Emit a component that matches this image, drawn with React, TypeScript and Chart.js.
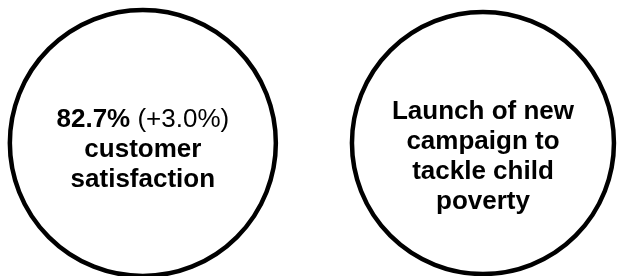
import React, { useEffect, useRef } from "react";
import { Chart, registerables } from "chart.js";

Chart.register(...registerables);

// ---- data ----
const categories = ["Customer satisfaction", "Child poverty campaign"];
const xValues = [0, 1];
const yValues = [0, 0];
const satisfactionValue = "82.7%";
const satisfactionChange = "(+3.0%)";
const satisfactionCaption = ["customer", "satisfaction"];
const campaignCaption = ["Launch of new", "campaign to", "tackle child", "poverty"];

// ---- style ----
const FONT_FAMILY = '"Liberation Sans", Arial, Helvetica, sans-serif';
const FONT_SIZE = 26;
const LINE_H = 30;
const RADII = [133, 131];
const TEXT_OFFSETS = [7, 14];

type Seg = { text: string; bold: boolean };

const textBlocks: Seg[][][] = [
  [
    [
      { text: satisfactionValue, bold: true },
      { text: " " + satisfactionChange, bold: false },
    ],
    ...satisfactionCaption.map((t) => [{ text: t, bold: true }]),
  ],
  campaignCaption.map((t) => [{ text: t, bold: true }]),
];

const textPlugin = {
  id: "circleText",
  afterDatasetsDraw(chart: any) {
    const ctx = chart.ctx as CanvasRenderingContext2D;
    const meta = chart.getDatasetMeta(0);
    ctx.save();
    ctx.fillStyle = "#000";
    ctx.textBaseline = "middle";
    ctx.textAlign = "left";
    meta.data.forEach((pt: any, i: number) => {
      const lines = textBlocks[i];
      if (!lines) return;
      const n = lines.length;
      const cy = pt.y + TEXT_OFFSETS[i];
      lines.forEach((segs, j) => {
        const y = cy + (j - (n - 1) / 2) * LINE_H;
        let w = 0;
        segs.forEach((s) => {
          ctx.font = `${s.bold ? "bold " : ""}${FONT_SIZE}px ${FONT_FAMILY}`;
          w += ctx.measureText(s.text).width;
        });
        let x = pt.x - w / 2;
        segs.forEach((s) => {
          ctx.font = `${s.bold ? "bold " : ""}${FONT_SIZE}px ${FONT_FAMILY}`;
          ctx.fillText(s.text, x, y);
          x += ctx.measureText(s.text).width;
        });
      });
    });
    ctx.restore();
  },
};

export default function App() {
  const ref = useRef<HTMLCanvasElement | null>(null);
  useEffect(() => {
    if (!ref.current) return;
    const chart = new Chart(ref.current, {
      type: "scatter",
      data: {
        labels: categories,
        datasets: [
          {
            label: "Highlights",
            data: xValues.map((x, i) => ({ x, y: yValues[i] })),
            pointRadius: RADII,
            pointHoverRadius: RADII,
            pointBackgroundColor: "#ffffff",
            pointBorderColor: "#000000",
            pointBorderWidth: 4.5,
            clip: false as any,
          },
        ],
      },
      options: {
        animation: false,
        responsive: true,
        maintainAspectRatio: false,
        events: [],
        layout: { autoPadding: false, padding: { top: 10, left: 0, right: 0, bottom: 0 } },
        plugins: { legend: { display: false }, tooltip: { enabled: false } },
        scales: {
          x: { type: "linear", min: -0.42, max: 1.4, display: false },
          y: { type: "linear", min: -1, max: 1, display: false },
        },
      },
      plugins: [textPlugin],
    });
    return () => chart.destroy();
  }, []);
  return (
    <div style={{ position: "fixed", left: 0, top: 0, width: 619, height: 276, background: "#fff" }}>
      <canvas ref={ref} />
    </div>
  );
}
